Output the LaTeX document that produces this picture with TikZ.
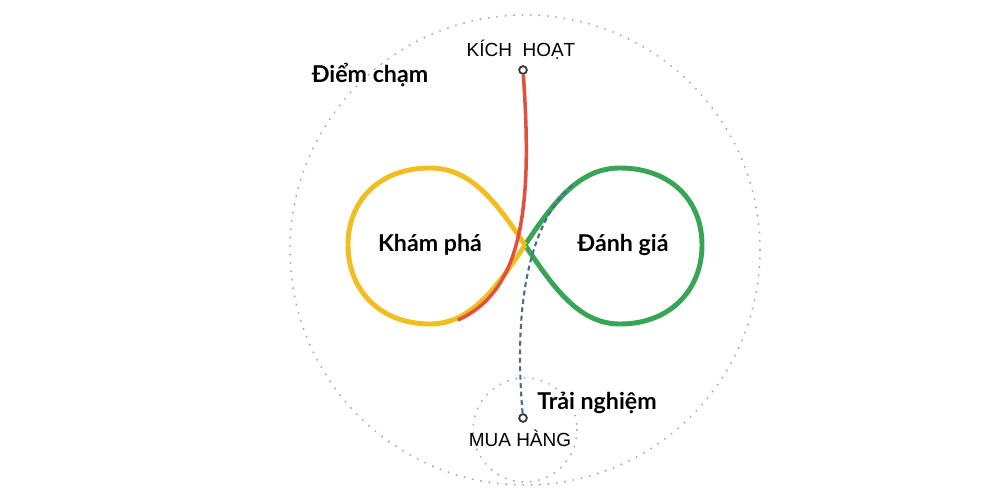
\documentclass[tikz,border=0pt]{standalone}
\usepackage{fontspec}
\setmainfont{Lato}
\newfontfamily\capsfont{Liberation Sans}
\tikzset{
    ring/.style={draw=gray!70, line width=3pt, dash pattern=on 0pt off 12pt, line cap=round},
    loopY/.style={draw={rgb,255:red,240;green,190;blue,30}, line width=7pt},
    loopG/.style={draw={rgb,255:red,55;green,165;blue,85}, line width=7pt},
    activation/.style={draw={rgb,255:red,225;green,80;blue,60}, line width=5pt},
    purchase/.style={draw={rgb,255:red,70;green,110;blue,145}, line width=3pt, dash pattern=on 7pt off 5pt},
    endpoint/.style={circle, draw=black!80, fill=white, line width=2.5pt, inner sep=0pt, minimum size=11pt},
    stage/.style={font=\bfseries\fontsize{33}{35}\selectfont},
    capslabel/.style={font=\capsfont\fontsize{27}{29}\selectfont}
}
\begin{document}
\begin{tikzpicture}[x=0.05cm, y=-0.05cm]
      \useasboundingbox (0,0) rectangle (1000,500);

      % --- Dotted rings ---
      \draw[ring] (525,250) circle (235);
      \draw[ring] (525,430) circle (52);

      % --- Infinity loop ---
      \coordinate (cross) at (525,245);
      \draw[loopG] (cross) .. controls (555,200) and (580,168) .. (620,168)
          .. controls (670,168) and (702,200) .. (702,245)
          .. controls (702,290) and (670,324) .. (620,324)
          .. controls (580,324) and (555,290) .. (cross);
      \draw[loopY] (cross) .. controls (495,200) and (470,168) .. (430,168)
          .. controls (380,168) and (348,200) .. (348,245)
          .. controls (348,290) and (380,324) .. (430,324)
          .. controls (470,324) and (495,290) .. (cross);

      % --- Endpoints ---
      \node (act) [endpoint] at (523,70) {};
      \node (buy) [endpoint] at (523,418) {};

      % --- Paths ---
      \draw[activation] (act) .. controls (532,200) and (525,290) .. (458,320);
      \draw[purchase] (buy) .. controls (512,290) and (535,215) .. (575,183);

      % --- Labels ---
      \node (actlabel) [capslabel] at (521,50) {KÍCH\ \ HOẠT};
      \node (buylabel) [capslabel] at (520,438) {MUA HÀNG};
      \node (touch) [stage] at (370,75) {Điểm chạm};
      \node (explore) [stage] at (430,245) {Khám phá};
      \node (evaluate) [stage] at (623,245) {Đánh giá};
      \node (experience) [stage] at (597,403) {Trải nghiệm};
  \end{tikzpicture}
\end{document}
